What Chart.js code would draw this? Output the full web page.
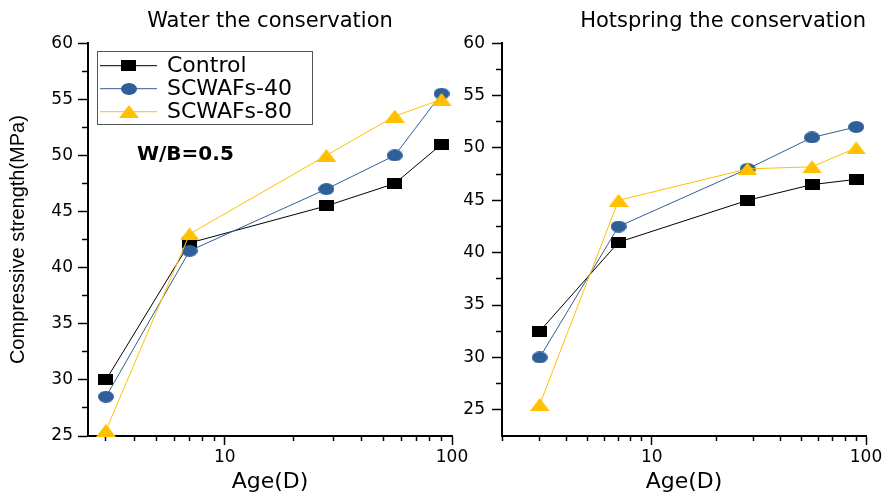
<!DOCTYPE html>
<html><head><meta charset="utf-8">
<script src="https://cdn.jsdelivr.net/npm/chart.js@4.4.1/dist/chart.umd.min.js"></script>
<style>
html,body{margin:0;padding:0;background:#fff;overflow:hidden;width:888px;height:494px;position:relative;}
#wrapL{position:absolute;left:0;top:0;width:474px;height:494px;}
#wrapR{position:absolute;left:456px;top:0;width:432px;height:494px;}
</style></head><body>
<div id="wrapL"><canvas id="cL" width="474" height="494"></canvas></div>
<div id="wrapR"><canvas id="cR" width="432" height="494"></canvas></div>
<script>
// ---- data ----
const ages = [3, 7, 28, 56, 90];
const seriesNames = ['Control', 'SCWAFs-40', 'SCWAFs-80'];
const waterControl = [30, 42.2, 45.5, 47.5, 51];
const waterS40 = [28.5, 41.5, 47, 50, 55.5];
const waterS80 = [25.5, 43, 50, 53.5, 55];
const hotControl = [32.5, 41, 45, 46.5, 47];
const hotS40 = [30, 42.5, 48, 51, 52];
const hotS80 = [25.5, 45, 48, 48.2, 50];
const xMajorTicks = [10, 100];
const xMinorTicksWater = [3, 4, 5, 6, 7, 8, 9, 20, 30, 40, 50, 60, 70, 80, 90];
const xMinorTicksHot = [2, 3, 4, 5, 6, 7, 8, 9, 20, 30, 40, 50, 60, 70, 80, 90];
const yMajorTicks = [25, 30, 35, 40, 45, 50, 55, 60];
const yMinorTicks = [27.5, 32.5, 37.5, 42.5, 47.5, 52.5, 57.5];
const panelTitles = ['Water the conservation', 'Hotspring the conservation'];
const xTitle = 'Age(D)';
const yTitle = 'Compressive strength(MPa)';
const noteText = 'W/B=0.5';

// ---- styles ----
const colors = ['#000000', '#2F5F98', '#FFC000'];
function makeMarker(shape, w, h, color) {
  const c = document.createElement('canvas'); c.width = w; c.height = h;
  const g = c.getContext('2d'); g.fillStyle = color;
  if (shape === 'rect') g.fillRect(0, 0, w, h);
  else if (shape === 'ellipse') { g.beginPath(); g.ellipse(w / 2, h / 2, w / 2, h / 2, 0, 0, Math.PI * 2); g.fill(); }
  else { g.beginPath(); g.moveTo(w / 2, 0); g.lineTo(w, h); g.lineTo(0, h); g.closePath(); g.fill(); }
  return c;
}
const markers = [makeMarker('rect', 15, 11, colors[0]), makeMarker('ellipse', 16, 12, colors[1]), makeMarker('tri', 20, 13, colors[2])];

function toPoints(vals) { return ages.map((a, i) => ({ x: a, y: vals[i] })); }
function makeDatasets(series) {
  return series.map((vals, i) => ({
    label: seriesNames[i], data: toPoints(vals),
    borderColor: colors[i], backgroundColor: colors[i], borderWidth: 1,
    pointStyle: markers[i], pointRadius: 8, pointHoverRadius: 8,
    tension: 0, clip: false, order: 3 - i, xAxisID: 'x', yAxisID: 'y'
  }));
}

const insideLegend = {
  id: 'insideLegend',
  afterDatasetsDraw(chart, args, o) {
    if (!o || !o.show) return;
    const { ctx, chartArea } = chart;
    const x0 = chartArea.left + o.dx, y0 = chartArea.top + o.dy;
    ctx.save();
    ctx.strokeStyle = '#555'; ctx.lineWidth = 1;
    ctx.strokeRect(Math.round(x0) + 0.5, Math.round(y0) + 0.5, o.w, o.h);
    chart.data.datasets.forEach((ds, i) => {
      const cy = y0 + o.firstRow + i * o.rowGap;
      ctx.strokeStyle = ds.borderColor; ctx.lineWidth = ds.borderWidth;
      ctx.beginPath(); ctx.moveTo(x0 + o.lineStart, cy); ctx.lineTo(x0 + o.lineEnd, cy); ctx.stroke();
      const img = ds.pointStyle; const mx = x0 + (o.lineStart + o.lineEnd) / 2;
      ctx.drawImage(img, Math.round(mx - img.width / 2), Math.round(cy - img.height / 2));
      ctx.fillStyle = '#000'; ctx.font = o.font; ctx.textBaseline = 'middle'; ctx.textAlign = 'left';
      ctx.fillText(ds.label, x0 + o.textX, cy + 1);
    });
    if (o.note) {
      ctx.font = o.noteFont; ctx.fillStyle = '#000'; ctx.textBaseline = 'middle';
      ctx.fillText(o.note, chartArea.left + o.noteX, chartArea.top + o.noteY);
    }
    ctx.restore();
  }
};

function makeConfig(cfg) {
  return {
    type: 'line',
    data: { datasets: makeDatasets(cfg.series) },
    plugins: [insideLegend],
    options: {
      responsive: false, animation: false, devicePixelRatio: 1,
      layout: { padding: { left: 0, right: cfg.padRight, top: 0, bottom: 0 } },
      plugins: {
        legend: { display: false }, tooltip: { enabled: false },
        title: { display: true, text: cfg.title, color: '#000', fullSize: cfg.titleFull, align: cfg.titleAlign,
          font: { family: 'DejaVu Sans', size: 21, weight: 'normal', lineHeight: 1.2 },
          padding: { top: 9, bottom: 9 } },
        insideLegend: cfg.legend
      },
      scales: {
        x: {
          type: 'logarithmic', position: 'bottom', weight: 1, min: cfg.xMin, max: 100,
          afterBuildTicks: s => { s.ticks = xMajorTicks.map(v => ({ value: v, major: true })); },
          afterFit: s => { s.height = 58; },
          ticks: { callback: v => String(v), color: '#000', font: { family: 'DejaVu Sans', size: 17 }, padding: 2, maxRotation: 0, autoSkip: false },
          grid: { display: true, drawOnChartArea: false, drawTicks: true, tickLength: 9, tickWidth: 1.5, tickColor: '#000' },
          border: { display: true, color: '#000', width: 2 },
          title: { display: true, text: xTitle, color: '#000', font: { family: 'DejaVu Sans', size: 22, lineHeight: 1 }, padding: { top: 0, bottom: 1 } }
        },
        xMinor: {
          type: 'logarithmic', position: 'bottom', weight: 0, min: cfg.xMin, max: 100,
          afterBuildTicks: s => { s.ticks = cfg.xMinor.map(v => ({ value: v })); },
          afterFit: s => { s.height = 0; },
          ticks: { display: false },
          grid: { display: true, drawOnChartArea: false, drawTicks: true, tickLength: 5, tickWidth: 1.5, tickColor: '#000' },
          border: { display: false }
        },
        y: {
          type: 'linear', position: 'left', weight: 1, min: cfg.yMin, max: 60,
          afterBuildTicks: s => { s.ticks = yMajorTicks.map(v => ({ value: v })); },
          afterFit: s => { s.width = cfg.yWidth; },
          ticks: { callback: v => String(v), color: '#000', font: { family: 'DejaVu Sans', size: 17 }, padding: cfg.yPad },
          grid: { display: true, drawOnChartArea: false, drawTicks: true, tickLength: 10, tickWidth: 1.5, tickColor: '#000' },
          border: { display: true, color: '#000', width: 2 },
          title: cfg.showYTitle ? { display: true, text: yTitle, color: '#000', font: { family: 'Liberation Sans', size: 20, lineHeight: 1.2 }, padding: { top: 6, bottom: 0 } } : { display: false }
        },
        yMinor: {
          type: 'linear', position: 'left', weight: 0, min: cfg.yMin, max: 60,
          afterBuildTicks: s => { s.ticks = yMinorTicks.map(v => ({ value: v })); },
          afterFit: s => { s.width = 0; },
          ticks: { display: false },
          grid: { display: true, drawOnChartArea: false, drawTicks: true, tickLength: 6, tickWidth: 1.5, tickColor: '#000' },
          border: { display: false }
        }
      }
    }
  };
}

new Chart(document.getElementById('cL'), makeConfig({
  series: [waterControl, waterS40, waterS80], title: panelTitles[0], titleFull: false, titleAlign: 'center',
  xMin: 2.5, yMin: 25, yWidth: 88, yPad: 5, padRight: 22, xMinor: xMinorTicksWater, showYTitle: true,
  legend: { show: true, dx: 9, dy: 8, w: 215, h: 73, firstRow: 14.5, rowGap: 23, lineStart: 3, lineEnd: 60, textX: 70,
    font: '22px "DejaVu Sans"', note: noteText, noteFont: 'bold 20px "DejaVu Sans"', noteX: 49, noteY: 112 }
}));
new Chart(document.getElementById('cR'), makeConfig({
  series: [hotControl, hotS40, hotS80], title: panelTitles[1], titleFull: true, titleAlign: 'end',
  xMin: 2, yMin: 22.5, yWidth: 46, yPad: 7, padRight: 22, xMinor: xMinorTicksHot, showYTitle: false,
  legend: { show: false }
}));
</script>
</body></html>
